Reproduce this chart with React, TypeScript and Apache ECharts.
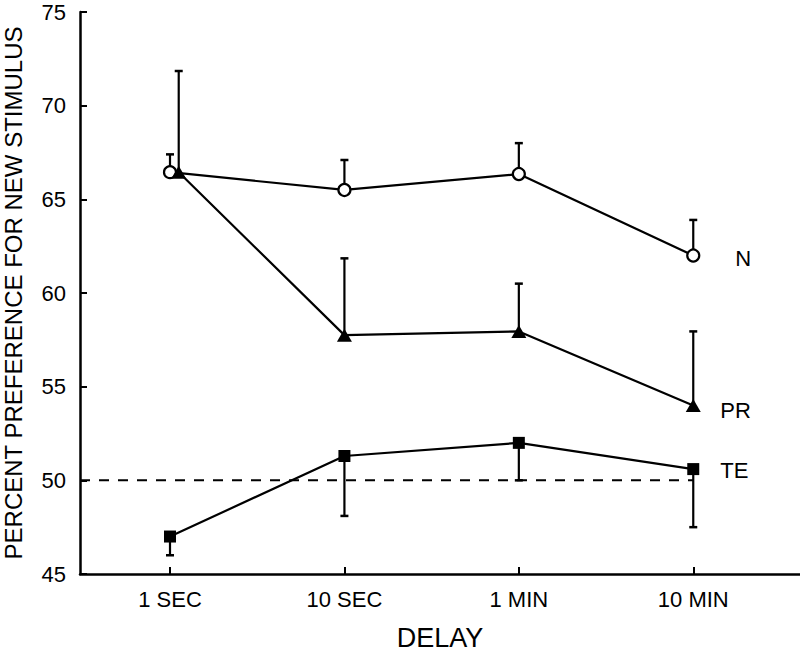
import React, { useEffect, useRef } from "react";
import * as echarts from "echarts";

const categories = ["1 SEC", "10 SEC", "1 MIN", "10 MIN"];
const yTicks = [45, 50, 55, 60, 65, 70, 75];

// N (open circles) - mean and upper error bar end
const nMean = [66.45, 65.5, 66.35, 62.0];
const nErrTop = [67.4, 67.1, 68.0, 63.9];

// PR (filled triangles) - mean and upper error bar end
const prMean = [66.45, 57.75, 57.95, 54.0];
const prErrTop = [71.85, 61.85, 60.5, 57.95];

// TE (filled squares) - mean and lower error bar end
const teMean = [47.0, 51.3, 52.0, 50.6];
const teErrBottom = [46.0, 48.1, 50.0, 47.5];

const chanceLevel = 50;

// x positions (category index); PR at 1 SEC slightly offset in original
const nX = [0, 1, 2, 3];
const prX = [0.05, 1, 2, 3];
const teX = [0, 1, 2, 3];

const FONT = '"Liberation Sans", Arial, Helvetica, sans-serif';
const X_MIN = -0.516;
const X_MAX = 3.612;

function errorSeries(xs: number[], means: number[], ends: number[]) {
  return {
    type: "custom",
    z: 1,
    silent: true,
    data: xs.map((x, i) => [x, means[i], ends[i]]),
    renderItem: (params: any, api: any) => {
      const p0 = api.coord([api.value(0), api.value(1)]);
      const p1 = api.coord([api.value(0), api.value(2)]);
      const cw = 4;
      return {
        type: "group",
        children: [
          {
            type: "line",
            shape: { x1: p0[0], y1: p0[1], x2: p1[0], y2: p1[1] },
            style: { stroke: "#000", lineWidth: 2.2 },
          },
          {
            type: "line",
            shape: { x1: p1[0] - cw, y1: p1[1], x2: p1[0] + cw, y2: p1[1] },
            style: { stroke: "#000", lineWidth: 2.5 },
          },
        ],
      };
    },
  };
}

export default function App() {
  const ref = useRef<HTMLDivElement>(null);
  useEffect(() => {
    if (!ref.current) return;
    const chart = echarts.init(ref.current, null, { renderer: "svg" });
    const lineBase = {
      type: "line",
      z: 3,
      lineStyle: { color: "#000", width: 2.2 },
      itemStyle: { color: "#000" },
      showSymbol: true,
    };
    chart.setOption({
      animation: false,
      backgroundColor: "#fff",
      textStyle: { fontFamily: FONT, color: "#000" },
      grid: {
        left: 80,
        right: 0,
        top: 12,
        bottom: 77,
        containLabel: false,
        outerBoundsMode: "none",
      },
      xAxis: {
        type: "value",
        min: X_MIN,
        max: X_MAX,
        name: "DELAY",
        nameLocation: "middle",
        nameGap: 50,
        nameTextStyle: { fontSize: 27, color: "#000", fontFamily: FONT },
        axisLine: { show: true, onZero: false, lineStyle: { color: "#000", width: 2.5 } },
        axisTick: {
          show: true,
          inside: true,
          length: 7,
          customValues: [0, 1, 2, 3],
          lineStyle: { color: "#000", width: 2 },
        },
        axisLabel: {
          show: true,
          customValues: [0, 1, 2, 3],
          formatter: (v: number) => categories[Math.round(v)] ?? "",
          fontSize: 22,
          color: "#000",
          margin: 14,
          fontFamily: FONT,
        },
        splitLine: { show: false },
      },
      yAxis: {
        type: "value",
        min: 45,
        max: 75,
        interval: 5,
        name: "PERCENT PREFERENCE FOR NEW STIMULUS",
        nameLocation: "middle",
        nameGap: 55,
        nameTextStyle: { fontSize: 24, color: "#000", fontFamily: FONT },
        axisLine: { show: true, onZero: false, lineStyle: { color: "#000", width: 2.5 } },
        axisTick: {
          show: true,
          inside: true,
          length: 7,
          lineStyle: { color: "#000", width: 2 },
        },
        axisLabel: {
          fontSize: 22,
          color: "#000",
          margin: 14,
          fontFamily: FONT,
          formatter: (v: number) => (yTicks.includes(v) ? String(v) : ""),
        },
        splitLine: { show: false },
      },
      series: [
        {
          type: "line",
          z: 1,
          silent: true,
          symbol: "none",
          data: [
            [X_MIN, chanceLevel],
            [3, chanceLevel],
          ],
          lineStyle: { color: "#000", width: 2, type: [10, 9] },
        },
        errorSeries(nX, nMean, nErrTop),
        errorSeries(prX, prMean, prErrTop),
        errorSeries(teX, teMean, teErrBottom),
        {
          ...lineBase,
          name: "N",
          symbol: "circle",
          symbolSize: 12,
          itemStyle: { color: "#fff", borderColor: "#000", borderWidth: 2.2 },
          data: nX.map((x, i) => [x, nMean[i]]),
          endLabel: {
            show: true,
            formatter: "N",
            fontSize: 22,
            color: "#000",
            fontFamily: FONT,
            distance: 42,
            offset: [0, 3],
          },
        },
        {
          ...lineBase,
          name: "PR",
          z: 4,
          symbol: "triangle",
          symbolSize: [15, 13],
          data: prX.map((x, i) => [x, prMean[i]]),
          endLabel: {
            show: true,
            formatter: "PR",
            fontSize: 22,
            color: "#000",
            fontFamily: FONT,
            distance: 27,
            offset: [0, 5],
          },
        },
        {
          ...lineBase,
          name: "TE",
          symbol: "rect",
          symbolSize: 12,
          data: teX.map((x, i) => [x, teMean[i]]),
          endLabel: {
            show: true,
            formatter: "TE",
            fontSize: 22,
            color: "#000",
            fontFamily: FONT,
            distance: 27,
            offset: [0, 1],
          },
        },
      ],
    });
    return () => chart.dispose();
  }, []);
  return (
    <div
      ref={ref}
      style={{ position: "fixed", left: 0, top: 0, width: 800, height: 651 }}
    />
  );
}
